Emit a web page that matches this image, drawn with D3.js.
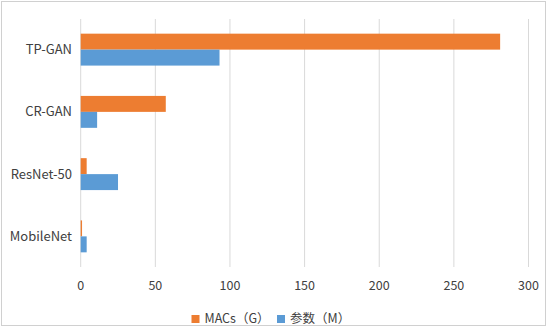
<!DOCTYPE html>
<html>
<head>
<meta charset="utf-8">
<script src="https://cdn.jsdelivr.net/npm/d3@7"></script>
<style>
  body { margin: 0; background: #fff; }
  svg text { font-family: "Noto Sans CJK SC", "Open Sans", sans-serif; }
</style>
</head>
<body>
<svg id="chart"></svg>
<script>
const categories = ["TP-GAN", "CR-GAN", "ResNet-50", "MobileNet"];
const macs = [281, 57, 4, 0.9];
const params = [93, 11, 25, 4];
const seriesNames = ["MACs（G）", "参数（M）"];
const xTicks = [0, 50, 100, 150, 200, 250, 300];

const W = 547, H = 328;
const svg = d3.select("#chart").attr("width", W).attr("height", H);
const colors = ["#ED7D31", "#5B9BD5"];

svg.append("rect")
    .attr("x", 1.5).attr("y", 1.5)
    .attr("width", W - 3).attr("height", H - 4)
    .attr("fill", "#fff")
    .attr("stroke", "#d0d0d0");

const x = d3.scaleLinear().domain([0, 300]).range([80.7, 528.5]);
const y = d3.scaleBand().domain(categories).range([18.5, 267.5]).paddingInner(0).paddingOuter(0);
const sub = d3.scaleBand().domain([0, 1]).range([0, y.bandwidth()]).paddingInner(0).paddingOuter(0.95);

// gridlines
svg.append("g")
    .selectAll("line")
    .data(xTicks)
    .join("line")
        .attr("x1", d => x(d)).attr("x2", d => x(d))
        .attr("y1", 19).attr("y2", 267)
        .attr("stroke", "#d9d9d9")
        .attr("stroke-width", 1);

// bars
const rows = categories.map((c, i) => ({c, vals: [macs[i], params[i]]}));
const groups = svg.append("g")
    .selectAll("g")
    .data(rows)
    .join("g")
        .attr("transform", d => `translate(0,${y(d.c)})`);
groups.selectAll("rect")
    .data(d => d.vals.map((v, k) => ({v, k})))
    .join("rect")
        .attr("x", x(0))
        .attr("y", d => sub(d.k))
        .attr("width", d => x(d.v) - x(0))
        .attr("height", sub.bandwidth())
        .attr("fill", d => colors[d.k]);

// category labels
svg.append("g")
    .selectAll("text")
    .data(categories)
    .join("text")
        .attr("x", 72)
        .attr("y", d => y(d) + y.bandwidth() / 2)
        .attr("dy", "0.35em")
        .attr("text-anchor", "end")
        .attr("font-size", 13)
        .attr("fill", "#404040")
        .text(d => d);

// x tick labels
svg.append("g")
    .selectAll("text")
    .data(xTicks)
    .join("text")
        .attr("x", d => x(d))
        .attr("y", 286)
        .attr("dy", "0.35em")
        .attr("text-anchor", "middle")
        .attr("font-size", 12.5)
        .attr("fill", "#404040")
        .text(d => d);

// legend
const legendX = [191.5, 277];
const legend = svg.append("g")
    .selectAll("g")
    .data(seriesNames)
    .join("g")
        .attr("transform", (d, i) => `translate(${legendX[i]},319)`);
legend.append("rect")
    .attr("x", 0).attr("y", -4)
    .attr("width", 8).attr("height", 8)
    .attr("fill", (d, i) => colors[i]);
legend.append("text")
    .attr("x", 13)
    .attr("dy", "0.35em")
    .attr("font-size", 12.5)
    .attr("fill", "#404040")
    .text(d => d);
</script>
</body>
</html>
